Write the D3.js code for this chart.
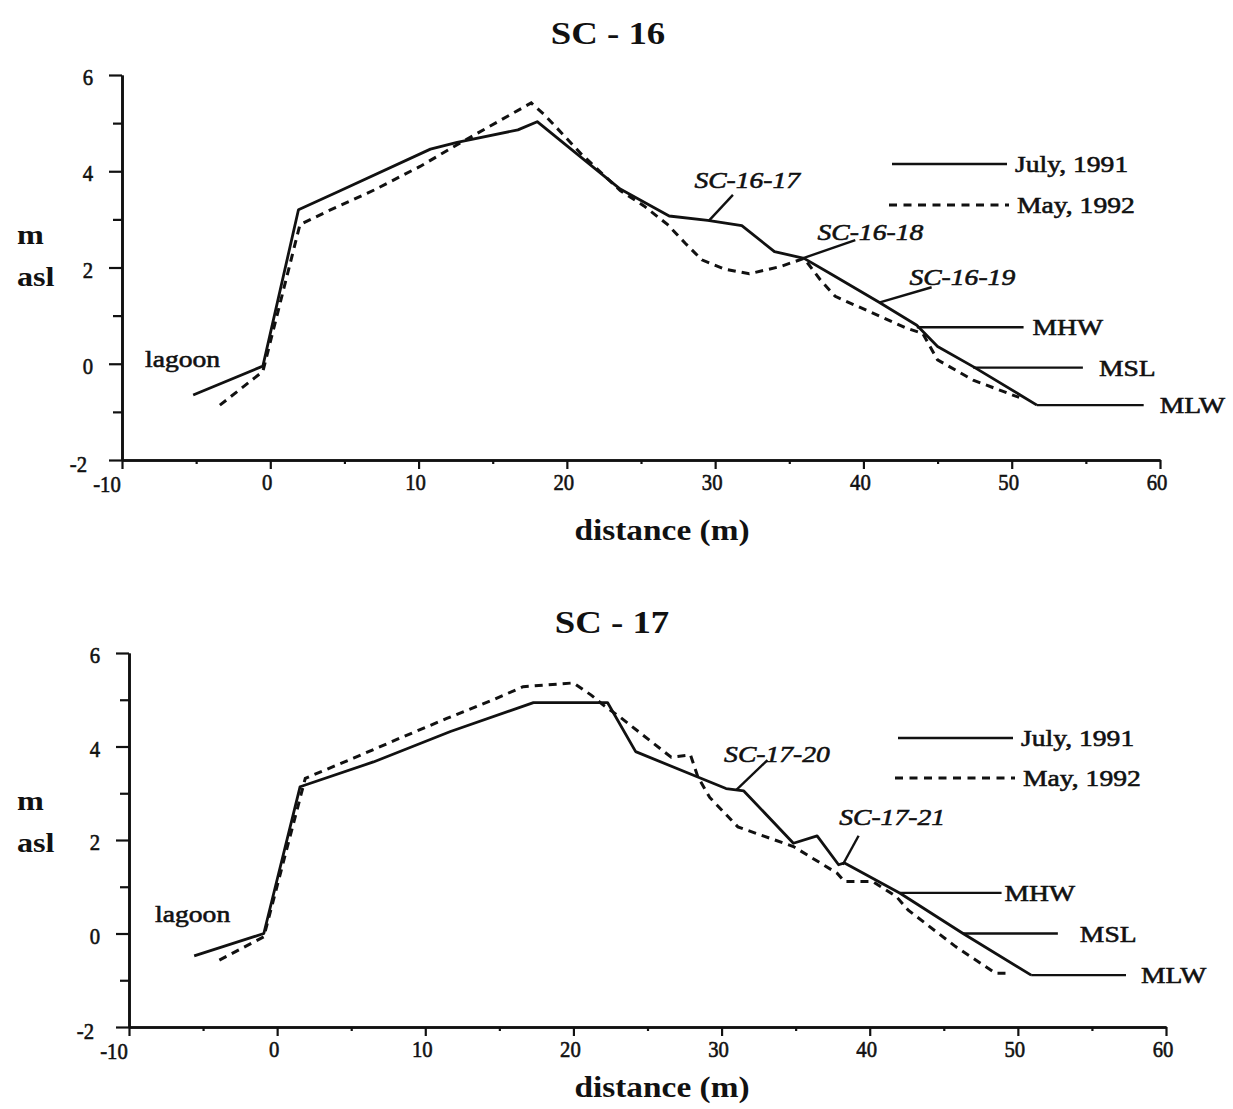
<html>
<head>
<script src="https://d3js.org/d3.v7.min.js"></script>
<style>
  body { margin: 0; background: #fff; }
  svg text { font-family: "Liberation Serif", "Times New Roman", serif; fill: #111; }
</style>
</head>
<body>
<div id="chart"></div>
<script>
// axis values
const xDomain = [-10, 60];
const yDomain = [-2, 6];
const xMajor = [-10, 0, 10, 20, 30, 40, 50, 60];
const xMinor = [-5, 5, 15, 25, 35, 45, 55];
const yLabelTicks = [-2, 0, 2, 4, 6];
const yOddTicks = [-1, 1, 3, 5];

// SC-16 profiles (distance m, elevation m asl)
const sc16JulyDist = [-5.2, -0.5, 1.9, 4.6, 10.8, 12.6, 16.7, 18.0, 23.6, 26.9, 29.5, 31.8, 34.0, 36.0, 37.9, 41.0, 43.6, 45.0, 47.4, 51.7];
const sc16JulyElev = [-0.65, -0.05, 3.2, 3.58, 4.46, 4.6, 4.86, 5.03, 3.63, 3.07, 2.98, 2.87, 2.33, 2.19, 1.85, 1.29, 0.8, 0.36, -0.06, -0.86];
const sc16MayDist = [-3.4, -0.5, 2.0, 3.8, 7.0, 10.1, 12.2, 14.6, 17.6, 18.5, 21.0, 23.6, 25.2, 26.8, 28.0, 29.1, 30.6, 32.3, 34.4, 36.0, 37.1, 38.1, 42.9, 44.0, 45.0, 47.4, 50.5];
const sc16MayElev = [-0.86, -0.16, 2.89, 3.16, 3.61, 4.1, 4.48, 4.9, 5.42, 5.17, 4.35, 3.6, 3.28, 2.89, 2.5, 2.16, 1.97, 1.87, 2.02, 2.19, 1.74, 1.4, 0.74, 0.63, 0.08, -0.34, -0.7];

// SC-17 profiles
const sc17JulyDist = [-5.6, -0.9, 1.55, 6.5, 11.7, 17.3, 22.3, 24.2, 28.6, 30.3, 31.5, 34.85, 36.45, 37.9, 38.3, 42.05, 46.3, 50.9];
const sc17JulyElev = [-0.48, 0.0, 3.14, 3.67, 4.32, 4.94, 4.94, 3.89, 3.32, 3.1, 3.05, 1.93, 2.09, 1.47, 1.51, 0.86, 0.0, -0.89];
const sc17MayDist = [-3.9, -0.9, 1.9, 5.15, 8.3, 11.45, 14.6, 16.6, 20.0, 21.2, 22.0, 23.1, 26.6, 27.9, 28.4, 29.2, 31.1, 34.85, 37.8, 38.3, 40.2, 41.8, 42.6, 45.8, 48.5, 49.3];
const sc17MayElev = [-0.57, -0.07, 3.32, 3.75, 4.18, 4.6, 5.0, 5.28, 5.36, 5.1, 4.89, 4.64, 3.77, 3.82, 3.35, 2.91, 2.28, 1.86, 1.29, 1.11, 1.11, 0.79, 0.5, -0.28, -0.85, -0.85];

// tide levels: name, level, leader from / to (distance)
const sc16TideNames = ["MHW", "MSL", "MLW"];
const sc16TideLevels = [0.76, -0.08, -0.86];
const sc16TideFrom = [43.6, 47.4, 51.7];
const sc16TideTo = [50.8, 54.8, 58.9];
const sc17TideNames = ["MHW", "MSL", "MLW"];
const sc17TideLevels = [0.87, 0.0, -0.89];
const sc17TideFrom = [42.05, 46.3, 50.9];
const sc17TideTo = [48.9, 52.7, 57.3];

// station labels and their leader lines
const sc16Stations = ["SC-16-17", "SC-16-18", "SC-16-19"];
const sc16StationAt = [[28.6, 3.65], [36.9, 2.57], [43.1, 1.64]];
const sc16Leaders = [[31.2, 3.51, 29.6, 2.98], [39.45, 2.57, 35.9, 2.19], [44.6, 1.59, 41.05, 1.27]];
const sc17Stations = ["SC-17-20", "SC-17-21"];
const sc17StationAt = [[30.17, 3.67], [37.94, 2.32]];
const sc17Leaders = [[33.1, 3.71, 31.0, 3.07], [39.25, 2.09, 38.18, 1.47]];

const seriesNames = ["July, 1991", "May, 1992"];

const panels = [
  { title: "SC - 16", titleX: 608, titleY: 44, xr: [122, 1160], yr: [460, 75],
    july: [sc16JulyDist, sc16JulyElev], may: [sc16MayDist, sc16MayElev],
    tides: [sc16TideNames, sc16TideLevels, sc16TideFrom, sc16TideTo], tideGap: [9, 16, 16],
    stations: [sc16Stations, sc16StationAt], leaders: sc16Leaders,
    lagoon: [-8.45, -0.07], axisLabelY: 540, mY: 244, aslY: 286,
    legend: { x0: 892, x1: 1007, y1: 164, y2: 205 } },
  { title: "SC - 17", titleX: 612, titleY: 633, xr: [129, 1166], yr: [1027, 653],
    july: [sc17JulyDist, sc17JulyElev], may: [sc17MayDist, sc17MayElev],
    tides: [sc17TideNames, sc17TideLevels, sc17TideFrom, sc17TideTo], tideGap: [3, 22, 15],
    stations: [sc17Stations, sc17StationAt], leaders: sc17Leaders,
    lagoon: [-8.24, 0.25], axisLabelY: 1097, mY: 810, aslY: 852,
    legend: { x0: 898, x1: 1013, y1: 738, y2: 778 } }
];

const SX = 1.15; // the scanned type is a bit wider than Times
const ink = "#111";

const svg = d3.select("#chart").append("svg")
  .attr("width", 1233).attr("height", 1109);

function label(g, x, y, str, size, opts) {
  opts = opts || {};
  const t = g.append("text")
    .attr("transform", "translate(" + x + "," + y + ") scale(" + (opts.sx || SX) + ",1)")
    .attr("text-anchor", opts.anchor || "start")
    .style("font-size", size + "px")
    .style("font-weight", opts.bold ? "bold" : "normal")
    .style("font-style", opts.italic ? "italic" : "normal")
    .text(str);
  if (!opts.bold) t.attr("stroke", ink).attr("stroke-width", 0.6);
  return t;
}

panels.forEach(p => {
  const g = svg.append("g");
  const x = d3.scaleLinear().domain(xDomain).range(p.xr);
  const y = d3.scaleLinear().domain(yDomain).range(p.yr);

  // axes
  g.append("g").attr("transform", "translate(0," + p.yr[0] + ")")
    .call(d3.axisBottom(x).tickValues(xMajor).tickSize(9).tickSizeOuter(0).tickFormat(""));
  g.append("g").attr("transform", "translate(0," + p.yr[0] + ")")
    .call(d3.axisBottom(x).tickValues(xMinor).tickSize(4).tickSizeOuter(0).tickFormat(""));
  g.append("g").attr("transform", "translate(" + p.xr[0] + ",0)")
    .call(d3.axisLeft(y).tickValues(yLabelTicks).tickSize(13).tickSizeOuter(0).tickFormat(""));
  g.append("g").attr("transform", "translate(" + p.xr[0] + ",0)")
    .call(d3.axisLeft(y).tickValues(yOddTicks).tickSize(9).tickSizeOuter(0).tickFormat(""));
  g.selectAll(".domain").attr("stroke", ink).attr("stroke-width", 2.6);
  g.selectAll(".tick line").attr("stroke", ink).attr("stroke-width", 2.2);

  xMajor.forEach(v => {
    const first = v === xDomain[0];
    label(g, x(v) + (first ? -15 : -3), p.yr[0] + (first ? 32 : 30), String(v), 23, { anchor: "middle", sx: 0.9 });
  });
  yLabelTicks.forEach(v => {
    const first = v === yDomain[0];
    label(g, p.xr[0] - (first ? 35 : 29), y(v) + (first ? 12 : 10), String(v), 23, { anchor: "end", sx: 0.9 });
  });

  // titles
  label(g, p.titleX, p.titleY, p.title, 32, { anchor: "middle", bold: true });
  label(g, 662, p.axisLabelY, "distance (m)", 29, { anchor: "middle", bold: true });
  label(g, 17, p.mY, "m", 28, { bold: true });
  label(g, 17, p.aslY, "asl", 28, { bold: true });

  // profiles
  const line = d3.line().x(d => x(d[0])).y(d => y(d[1]));
  const july = d3.zip(p.july[0], p.july[1]);
  const may = d3.zip(p.may[0], p.may[1]);
  g.append("path").datum(may).attr("d", line)
    .attr("fill", "none").attr("stroke", ink).attr("stroke-width", 3)
    .attr("stroke-dasharray", "8,6");
  g.append("path").datum(july).attr("d", line)
    .attr("fill", "none").attr("stroke", ink).attr("stroke-width", 2.8)
    .attr("stroke-linejoin", "round");

  // tide levels
  const [tn, tl, tf, tt] = p.tides;
  tn.forEach((name, i) => {
    g.append("line")
      .attr("x1", x(tf[i])).attr("x2", x(tt[i]))
      .attr("y1", y(tl[i])).attr("y2", y(tl[i]))
      .attr("stroke", ink).attr("stroke-width", 2.4);
    label(g, x(tt[i]) + p.tideGap[i], y(tl[i]) + 8, name, 24);
  });

  // station labels
  p.stations[0].forEach((s, i) => {
    const at = p.stations[1][i];
    label(g, x(at[0]), y(at[1]), s, 24, { italic: true });
  });
  p.leaders.forEach(l => {
    g.append("line")
      .attr("x1", x(l[0])).attr("y1", y(l[1]))
      .attr("x2", x(l[2])).attr("y2", y(l[3]))
      .attr("stroke", ink).attr("stroke-width", 2.4);
  });
  label(g, x(p.lagoon[0]), y(p.lagoon[1]), "lagoon", 24);

  // legend
  const lg = p.legend;
  g.append("line").attr("x1", lg.x0).attr("x2", lg.x1).attr("y1", lg.y1).attr("y2", lg.y1)
    .attr("stroke", ink).attr("stroke-width", 2.6);
  g.append("line").attr("x1", lg.x0 - 3).attr("x2", lg.x1 + 2).attr("y1", lg.y2).attr("y2", lg.y2)
    .attr("stroke", ink).attr("stroke-width", 2.8).attr("stroke-dasharray", "8,6.5");
  label(g, lg.x1 + 8, lg.y1 + 8, seriesNames[0], 24);
  label(g, lg.x1 + 10, lg.y2 + 8, seriesNames[1], 24);
});
</script>
</body>
</html>
